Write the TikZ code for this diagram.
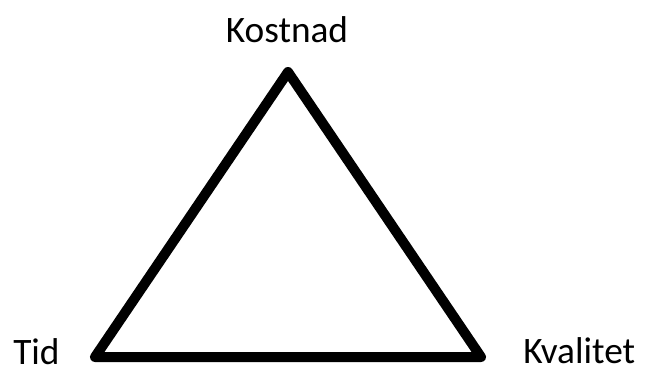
\documentclass[tikz,border=0pt]{standalone}
\usepackage{fontspec}
\setmainfont{Carlito}

\begin{document}
\begin{tikzpicture}[
    x=0.75pt, y=-0.75pt,
    every node/.style={font=\fontsize{28}{32}\selectfont, inner sep=0pt},
    edge/.style={line width=7.5pt, line join=round}
]
\useasboundingbox (0,0) rectangle (649,369);
\coordinate (top) at (288,72);
\coordinate (left) at (95,357);
\coordinate (right) at (481,357);

\node[anchor=base] (kostnad) at (287,42) {Kostnad};
\node[anchor=base west] (tid) at (13,364) {Tid};
\node[anchor=base west] (kvalitet) at (523,363) {Kvalitet};

\draw[edge] (top) -- (right) -- (left) -- cycle;
\end{tikzpicture}
\end{document}
